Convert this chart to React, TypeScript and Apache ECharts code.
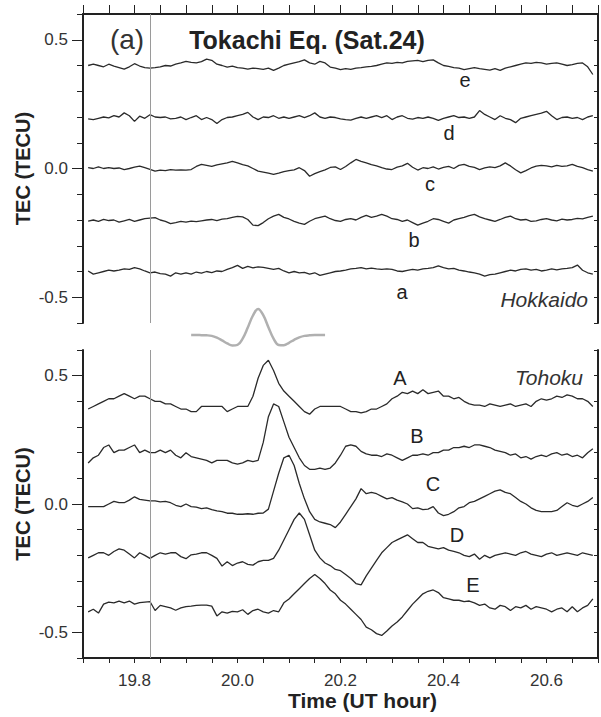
import React, { useEffect, useRef } from "react";
import * as echarts from "echarts";

const FONT = '"Liberation Sans", Arial, Helvetica, sans-serif';
const INK = "#222";

// Sampling of the TEC series: 0.01 h steps from 19.71 to 20.69 UT
const T_START = 19.71;
const T_STEP = 0.01;

// Hokkaido stations (upper panel), TEC in TECU including display offsets
const hokE = [
  0.40, 0.405, 0.40, 0.395, 0.405, 0.398, 0.392, 0.386, 0.395, 0.407,
  0.398, 0.392, 0.39, 0.392, 0.395, 0.40, 0.398, 0.405, 0.41, 0.416,
  0.412, 0.41, 0.415, 0.425, 0.42, 0.405, 0.40, 0.394, 0.398, 0.392,
  0.39, 0.386, 0.39, 0.388, 0.385, 0.39, 0.381, 0.39, 0.40, 0.405,
  0.41, 0.415, 0.422, 0.41, 0.405, 0.416, 0.41, 0.394, 0.39, 0.384,
  0.388, 0.385, 0.39, 0.392, 0.395, 0.397, 0.40, 0.405, 0.41, 0.408,
  0.412, 0.41, 0.416, 0.418, 0.42, 0.415, 0.42, 0.422, 0.41, 0.40,
  0.397, 0.392, 0.39, 0.384, 0.388, 0.392, 0.388, 0.385, 0.382, 0.388,
  0.381, 0.39, 0.395, 0.40, 0.405, 0.41, 0.408, 0.412, 0.41, 0.405,
  0.408, 0.41, 0.405, 0.40, 0.403, 0.408, 0.41, 0.395, 0.365,
];
const hokD = [
  0.193, 0.19, 0.195, 0.20, 0.197, 0.205, 0.20, 0.216, 0.205, 0.183,
  0.203, 0.195, 0.209, 0.20, 0.198, 0.20, 0.193, 0.195, 0.20, 0.19,
  0.198, 0.205, 0.19, 0.198, 0.19, 0.175, 0.19, 0.198, 0.20, 0.205,
  0.21, 0.218, 0.20, 0.19, 0.20, 0.198, 0.205, 0.195, 0.20, 0.195,
  0.20, 0.205, 0.198, 0.205, 0.216, 0.20, 0.195, 0.20, 0.198, 0.193,
  0.19, 0.188, 0.195, 0.20, 0.195, 0.20, 0.205, 0.198, 0.205, 0.19,
  0.20, 0.205, 0.195, 0.192, 0.198, 0.195, 0.20, 0.195, 0.187, 0.195,
  0.20, 0.205, 0.198, 0.20, 0.195, 0.20, 0.225, 0.21, 0.20, 0.19,
  0.205, 0.195, 0.19, 0.178, 0.195, 0.20, 0.205, 0.21, 0.215, 0.222,
  0.205, 0.19, 0.198, 0.20, 0.195, 0.198, 0.19, 0.20, 0.205,
];
const hokC = [
  0.003, 0.0, 0.006, 0.0, 0.003, 0.0, 0.002, -0.004, 0.0, 0.005,
  0.009, 0.003, -0.003, -0.01, -0.006, -0.008, -0.004, -0.006, -0.005, -0.006,
  -0.004, 0.008, 0.016, 0.012, 0.008, 0.014, 0.018, 0.022, 0.028, 0.022,
  0.015, 0.01, 0.0, -0.01, -0.014, -0.018, -0.023, -0.018, -0.012, -0.008,
  -0.005, 0.003, -0.008, -0.03, -0.02, -0.012, -0.005, 0.004, 0.006, -0.004,
  0.008, 0.022, 0.035, 0.028, 0.022, 0.015, 0.01, 0.003, -0.002, -0.004,
  0.005, 0.01, 0.02, 0.005, -0.006, 0.003, 0.0, 0.006, -0.002, 0.004,
  0.008, 0.0, 0.012, 0.016, 0.008, 0.004, -0.004, 0.002, 0.006, 0.003,
  0.01, 0.022, 0.01, -0.005, -0.017, -0.008, 0.002, 0.009, 0.012, 0.01,
  0.006, 0.012, 0.008, 0.01, 0.016, 0.008, 0.003, -0.004, -0.01,
];
const hokB = [
  -0.204, -0.20, -0.205, -0.198, -0.202, -0.20, -0.208, -0.203, -0.198, -0.205,
  -0.20, -0.195, -0.193, -0.191, -0.20, -0.205, -0.214, -0.21, -0.205, -0.208,
  -0.204, -0.206, -0.203, -0.20, -0.198, -0.202, -0.197, -0.195, -0.19, -0.186,
  -0.188, -0.198, -0.22, -0.222, -0.21, -0.195, -0.185, -0.178, -0.19, -0.196,
  -0.205, -0.212, -0.217, -0.205, -0.195, -0.19, -0.185, -0.195, -0.202, -0.205,
  -0.198, -0.195, -0.20, -0.19, -0.182, -0.19, -0.185, -0.178, -0.185, -0.195,
  -0.198, -0.205, -0.20, -0.21, -0.22, -0.212, -0.205, -0.195, -0.198, -0.205,
  -0.212, -0.20, -0.195, -0.19, -0.183, -0.178, -0.188, -0.195, -0.20, -0.205,
  -0.198, -0.19, -0.185, -0.195, -0.20, -0.198, -0.205, -0.203, -0.198, -0.195,
  -0.20, -0.203, -0.197, -0.20, -0.198, -0.194, -0.196, -0.19, -0.185,
];
const hokA = [
  -0.398, -0.41, -0.405, -0.40, -0.395, -0.398, -0.395, -0.39, -0.392, -0.385,
  -0.39, -0.398, -0.405, -0.402, -0.408, -0.41, -0.418, -0.405, -0.41, -0.405,
  -0.41, -0.402, -0.406, -0.40, -0.404, -0.398, -0.40, -0.392, -0.385, -0.376,
  -0.388, -0.38, -0.386, -0.382, -0.384, -0.388, -0.392, -0.388, -0.398, -0.405,
  -0.40, -0.405, -0.403, -0.41, -0.405, -0.415, -0.41, -0.405, -0.40, -0.398,
  -0.395, -0.39, -0.388, -0.385, -0.39, -0.387, -0.39, -0.392, -0.39, -0.392,
  -0.398, -0.40, -0.396, -0.392, -0.395, -0.39, -0.388, -0.385, -0.378, -0.385,
  -0.39, -0.388, -0.395, -0.398, -0.402, -0.405, -0.41, -0.418, -0.412, -0.41,
  -0.405, -0.40, -0.395, -0.398, -0.392, -0.39, -0.395, -0.392, -0.398, -0.395,
  -0.39, -0.394, -0.39, -0.388, -0.385, -0.375, -0.395, -0.405, -0.41,
];

// Tohoku stations (lower panel)
const tohA = [
  0.37, 0.38, 0.39, 0.40, 0.41, 0.41, 0.42, 0.43, 0.42, 0.41,
  0.42, 0.42, 0.41, 0.40, 0.40, 0.39, 0.39, 0.38, 0.37, 0.37,
  0.36, 0.36, 0.38, 0.38, 0.38, 0.38, 0.38, 0.36, 0.37, 0.38,
  0.38, 0.38, 0.42, 0.49, 0.54, 0.56, 0.52, 0.47, 0.44, 0.42,
  0.40, 0.38, 0.36, 0.35, 0.37, 0.38, 0.38, 0.38, 0.38, 0.38,
  0.37, 0.36, 0.36, 0.355, 0.36, 0.37, 0.37, 0.38, 0.39, 0.41,
  0.42, 0.435, 0.43, 0.44, 0.43, 0.445, 0.43, 0.435, 0.44, 0.42,
  0.42, 0.41, 0.415, 0.40, 0.39, 0.385, 0.385, 0.38, 0.39, 0.385,
  0.38, 0.385, 0.39, 0.38, 0.385, 0.39, 0.38, 0.40, 0.41, 0.405,
  0.41, 0.42, 0.415, 0.425, 0.42, 0.41, 0.41, 0.40, 0.38,
];
const tohB = [
  0.16, 0.18, 0.19, 0.22, 0.23, 0.20, 0.21, 0.21, 0.22, 0.23,
  0.20, 0.21, 0.20, 0.20, 0.21, 0.20, 0.21, 0.19, 0.18, 0.20,
  0.185, 0.18, 0.175, 0.17, 0.16, 0.17, 0.17, 0.17, 0.16, 0.155,
  0.16, 0.17, 0.165, 0.17, 0.24, 0.34, 0.39, 0.38, 0.32, 0.26,
  0.22, 0.18, 0.15, 0.135, 0.135, 0.14, 0.135, 0.14, 0.16, 0.19,
  0.225, 0.23, 0.225, 0.205, 0.195, 0.19, 0.19, 0.185, 0.195, 0.19,
  0.18, 0.17, 0.18, 0.19, 0.19, 0.195, 0.19, 0.20, 0.20, 0.21,
  0.21, 0.22, 0.22, 0.225, 0.22, 0.23, 0.23, 0.225, 0.22, 0.21,
  0.205, 0.20, 0.19, 0.195, 0.18, 0.185, 0.175, 0.185, 0.19, 0.185,
  0.195, 0.20, 0.19, 0.195, 0.185, 0.19, 0.18, 0.20, 0.215,
];
const tohC = [
  -0.01, -0.01, -0.01, -0.01, 0.0, 0.01, 0.005, 0.005, 0.015, 0.028,
  0.018, 0.015, 0.012, 0.012, 0.008, 0.01, 0.005, -0.005, -0.01, 0.0,
  -0.01, -0.012, -0.018, -0.015, -0.022, -0.027, -0.03, -0.036, -0.036, -0.04,
  -0.04, -0.038, -0.04, -0.036, -0.035, -0.02, 0.05, 0.12, 0.18, 0.19,
  0.15, 0.08, 0.02, -0.03, -0.06, -0.07, -0.075, -0.08, -0.092, -0.07,
  -0.04, -0.01, 0.02, 0.06, 0.04, 0.045, 0.04, 0.03, 0.02, 0.025,
  0.015, 0.008, 0.0, -0.018, -0.015, -0.022, -0.02, -0.01, -0.035, -0.045,
  -0.04, -0.03, -0.015, -0.01, 0.005, 0.01, 0.02, 0.03, 0.04, 0.05,
  0.055, 0.045, 0.04, 0.025, 0.01, 0.0, -0.015, -0.025, -0.03, -0.03,
  -0.03, -0.025, -0.01, 0.005, -0.005, -0.01, 0.0, 0.01, 0.025,
];
const tohD = [
  -0.21, -0.20, -0.19, -0.19, -0.20, -0.185, -0.175, -0.18, -0.195, -0.21,
  -0.19, -0.20, -0.212, -0.20, -0.19, -0.195, -0.19, -0.19, -0.205, -0.213,
  -0.198, -0.195, -0.19, -0.19, -0.20, -0.212, -0.242, -0.225, -0.24, -0.23,
  -0.225, -0.235, -0.238, -0.225, -0.22, -0.22, -0.212, -0.18, -0.14, -0.10,
  -0.06, -0.035, -0.06, -0.12, -0.18, -0.21, -0.23, -0.24, -0.255, -0.26,
  -0.275, -0.29, -0.31, -0.315, -0.28, -0.25, -0.22, -0.19, -0.17, -0.15,
  -0.14, -0.13, -0.12, -0.135, -0.15, -0.15, -0.165, -0.17, -0.175, -0.17,
  -0.18, -0.185, -0.19, -0.20, -0.205, -0.195, -0.215, -0.20, -0.21, -0.20,
  -0.195, -0.19, -0.195, -0.20, -0.19, -0.185, -0.195, -0.20, -0.205, -0.195,
  -0.19, -0.20, -0.195, -0.19, -0.195, -0.20, -0.19, -0.195, -0.20,
];
const tohE = [
  -0.42, -0.41, -0.425, -0.39, -0.382, -0.385, -0.378, -0.385, -0.378, -0.39,
  -0.384, -0.382, -0.38, -0.415, -0.395, -0.40, -0.405, -0.414, -0.405, -0.40,
  -0.398, -0.395, -0.394, -0.394, -0.398, -0.436, -0.42, -0.425, -0.418, -0.42,
  -0.412, -0.43, -0.415, -0.41, -0.42, -0.425, -0.415, -0.42, -0.385, -0.37,
  -0.35, -0.33, -0.31, -0.29, -0.275, -0.29, -0.31, -0.335, -0.35, -0.375,
  -0.39, -0.41, -0.43, -0.45, -0.48, -0.49, -0.505, -0.512, -0.495, -0.475,
  -0.46, -0.44, -0.415, -0.39, -0.37, -0.35, -0.34, -0.335, -0.345, -0.365,
  -0.37, -0.375, -0.375, -0.38, -0.378, -0.385, -0.395, -0.39, -0.405, -0.41,
  -0.395, -0.40, -0.415, -0.40, -0.405, -0.395, -0.41, -0.40, -0.405, -0.41,
  -0.42, -0.41, -0.405, -0.42, -0.40, -0.42, -0.405, -0.395, -0.37,
];

// Schematic pulse drawn between the panels (arbitrary units)
const PULSE_START = 19.91;
const pulseShape = [
  0, 0, -0.005, -0.01, -0.03, -0.09, -0.18, -0.28, -0.35, -0.33,
  -0.12, 0.25, 0.65, 0.87, 0.66, 0.26, -0.12, -0.33, -0.34, -0.26,
  -0.16, -0.08, -0.03, -0.01, 0, 0, 0,
];

// Earthquake onset time
const ONSET = 19.833;

const hokSeries = [
  { name: "a", values: hokA },
  { name: "b", values: hokB },
  { name: "c", values: hokC },
  { name: "d", values: hokD },
  { name: "e", values: hokE },
];
const tohSeries = [
  { name: "A", values: tohA },
  { name: "B", values: tohB },
  { name: "C", values: tohC },
  { name: "D", values: tohD },
  { name: "E", values: tohE },
];

const X_MIN = 19.7;
const X_MAX = 20.7;
const Y_MIN = -0.6;
const Y_MAX = 0.6;
const Y_LABELS = [-0.5, 0, 0.5];

const toPairs = (start: number, vals: number[]) =>
  vals.map((v, i) => [+(start + i * T_STEP).toFixed(2), v]);

export default function App() {
  const ref = useRef<HTMLDivElement>(null);

  useEffect(() => {
    if (!ref.current) return;
    const chart = echarts.init(ref.current, null, { renderer: "svg" });

    const axisLine = { show: true, onZero: false, lineStyle: { color: INK, width: 2 } };
    const tickStyle = { color: INK, width: 1 };

    const xAxisBase = {
      type: "value" as const,
      min: X_MIN,
      max: X_MAX,
      interval: 0.05,
      splitLine: { show: false },
    };

    const leftMinor = (gridIndex: number) => ({
      type: "value" as const,
      gridIndex,
      position: "left" as const,
      min: Y_MIN,
      max: Y_MAX,
      interval: 0.1,
      axisLine,
      axisTick: { show: true, length: 6, lineStyle: tickStyle },
      axisLabel: { show: false },
      splitLine: { show: false },
      name: "TEC (TECU)",
      nameLocation: "middle" as const,
      nameGap: 50,
      nameMoveOverlap: false,
      nameTextStyle: { fontFamily: FONT, fontSize: 20, fontWeight: "bold" as const, color: INK },
    });
    const leftMajor = (gridIndex: number) => ({
      type: "value" as const,
      gridIndex,
      position: "left" as const,
      min: Y_MIN,
      max: Y_MAX,
      axisLine: { show: false, onZero: false },
      axisTick: { show: true, length: 11, customValues: Y_LABELS, lineStyle: tickStyle },
      axisLabel: {
        show: true,
        customValues: Y_LABELS,
        formatter: (v: number) => v.toFixed(1),
        fontFamily: FONT,
        fontSize: 17,
        color: "#333",
        margin: 15,
      },
      splitLine: { show: false },
    });
    const rightAxis = (gridIndex: number) => ({
      type: "value" as const,
      gridIndex,
      position: "right" as const,
      min: Y_MIN,
      max: Y_MAX,
      interval: 0.1,
      axisLine,
      axisTick: { show: true, inside: true, length: 4, lineStyle: tickStyle },
      axisLabel: { show: false },
      splitLine: { show: false },
    });

    const traceLine = { color: "#2a2a2a", width: 1.3 };
    const onsetLine = {
      symbol: "none",
      silent: true,
      label: { show: false },
      lineStyle: { color: "#9a9a9a", width: 1, type: "solid" as const },
      data: [{ xAxis: ONSET }],
    };

    const series: any[] = [];
    hokSeries.forEach((s, i) => {
      series.push({
        type: "line",
        name: s.name,
        xAxisIndex: 0,
        yAxisIndex: 0,
        data: toPairs(T_START, s.values),
        showSymbol: false,
        lineStyle: traceLine,
        itemStyle: { color: traceLine.color },
        markLine: i === 0 ? onsetLine : undefined,
      });
    });
    tohSeries.forEach((s, i) => {
      series.push({
        type: "line",
        name: s.name,
        xAxisIndex: 1,
        yAxisIndex: 3,
        data: toPairs(T_START, s.values),
        showSymbol: false,
        lineStyle: traceLine,
        itemStyle: { color: traceLine.color },
        markLine: i === 0 ? onsetLine : undefined,
      });
    });
    series.push({
      type: "line",
      name: "pulse",
      xAxisIndex: 2,
      yAxisIndex: 6,
      data: toPairs(PULSE_START, pulseShape),
      showSymbol: false,
      smooth: 0.4,
      lineStyle: { color: "#b0b0b0", width: 2.5 },
      itemStyle: { color: "#b0b0b0" },
    });

    const label = (text: string, x: number, y: number, extra: any = {}) => ({
      type: "text",
      x,
      y,
      style: {
        text,
        fontFamily: FONT,
        fontSize: 20,
        fill: INK,
        textAlign: "center",
        textVerticalAlign: "middle",
        ...extra,
      },
    });

    chart.setOption({
      animation: false,
      backgroundColor: "#ffffff",
      grid: [
        { left: 83, top: 14, width: 515, height: 309 },
        { left: 83, top: 350, width: 515, height: 308 },
        { left: 83, top: 305, width: 515, height: 45 },
      ],
      xAxis: [
        {
          ...xAxisBase,
          gridIndex: 0,
          position: "top",
          axisLine,
          axisTick: { show: true, length: 9, lineStyle: tickStyle },
          axisLabel: { show: false },
        },
        {
          ...xAxisBase,
          gridIndex: 1,
          position: "bottom",
          axisLine,
          axisTick: { show: true, length: 5, lineStyle: tickStyle },
          axisLabel: {
            show: true,
            formatter: (v: number) => (Math.round(v * 100) % 20 === 0 ? v.toFixed(1) : ""),
            fontFamily: FONT,
            fontSize: 17,
            color: "#333",
            margin: 14,
          },
          name: "Time (UT hour)",
          nameLocation: "middle",
          nameGap: 31,
          nameTextStyle: {
            fontFamily: FONT,
            fontSize: 21,
            fontWeight: "bold",
            color: INK,
            padding: [0, 0, 0, 44],
          },
        },
        {
          ...xAxisBase,
          gridIndex: 2,
          show: false,
        },
      ],
      yAxis: [
        leftMinor(0),
        leftMajor(0),
        rightAxis(0),
        leftMinor(1),
        leftMajor(1),
        rightAxis(1),
        { type: "value", gridIndex: 2, min: -0.5, max: 1.0, show: false },
      ],
      series,
      graphic: [
        label("(a)", 127, 39, { fontSize: 28, fill: "#333" }),
        label("Tokachi Eq. (Sat.24)", 307, 40, { fontSize: 25, fontWeight: "bold" }),
        label("e", 465, 80),
        label("d", 449, 133),
        label("c", 430, 184),
        label("b", 414, 240),
        label("a", 402, 292),
        label("Hokkaido", 588, 299, { textAlign: "right", fontStyle: "italic", fontSize: 21, fill: "#333" }),
        label("A", 400, 378),
        label("B", 417, 436),
        label("C", 433, 484),
        label("D", 457, 535),
        label("E", 473, 585),
        label("Tohoku", 583, 377, { textAlign: "right", fontStyle: "italic", fontSize: 21, fill: "#333" }),
      ],
    });

    return () => chart.dispose();
  }, []);

  return (
    <div
      ref={ref}
      style={{ position: "fixed", left: 0, top: 0, width: 601, height: 717, background: "#fff" }}
    />
  );
}
